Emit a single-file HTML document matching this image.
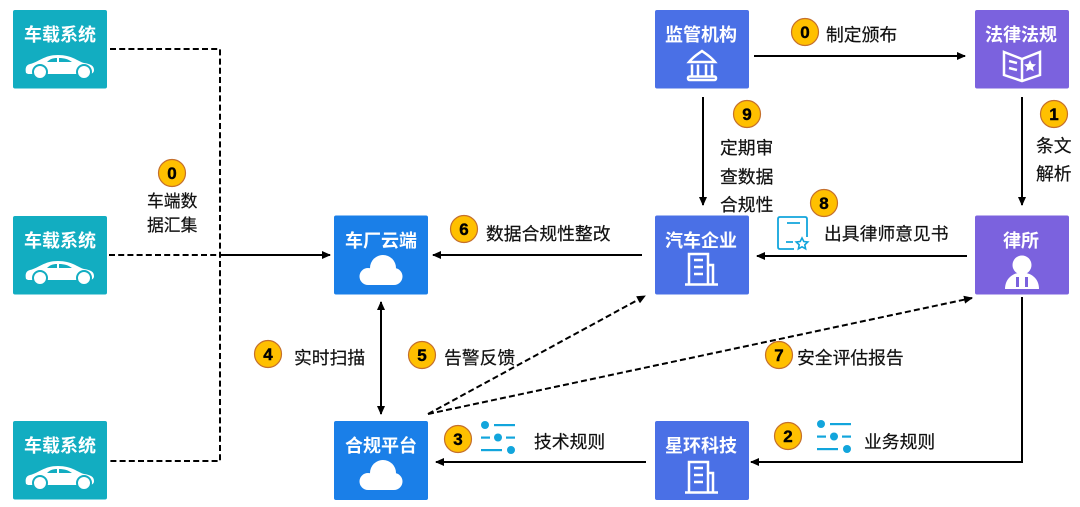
<!DOCTYPE html>
<html lang="zh"><head><meta charset="utf-8"><style>
html,body{margin:0;padding:0;background:#fff;width:1080px;height:507px;overflow:hidden}
svg{display:block}
text{font-family:"Liberation Sans","Noto Sans CJK SC",sans-serif}
.t{font-size:18px;font-weight:700;fill:#fff;text-anchor:middle}
.l{font-size:17.8px;fill:#111;stroke:#111;stroke-width:.2}
.s{font-size:16.800px}
.n{font-size:17px;font-weight:700;fill:#000;stroke:#000;stroke-width:.4;text-anchor:middle}
.c{fill:#ffc000;stroke:#c5702c;stroke-width:1.2}
.w{fill:none;stroke:#fff;stroke-width:2.500}
.li{fill:none;stroke:#000;stroke-width:2}
.d{fill:none;stroke:#000;stroke-width:2;stroke-dasharray:6 3.2}
</style></head><body>
<svg width="1080" height="507" viewBox="0 0 1080 507" xmlns="http://www.w3.org/2000/svg">
<defs>
<marker id="a" markerUnits="userSpaceOnUse" markerWidth="10" markerHeight="10" refX="8" refY="5" orient="auto-start-reverse"><path d="M0 1L9 5L0 9Z" fill="#000"/></marker>
<g id="car"><path d="M-34 13c-1-5 0-8 4-9 9-2 14-9 28-9 14 0 19 6 26 8 7 1 10 3 10 7 0 2-1 3-3 4H-32z" fill="#fff"/><path d="M-13 2c3-3 6-4 10-4v4zM-1-2c5 0 9 1 13 4H-1z" fill="#12adc1"/><circle cx="-20" cy="12" r="7" fill="#fff" stroke="#12adc1" stroke-width="2"/><circle cx="24" cy="12" r="7" fill="#fff" stroke="#12adc1" stroke-width="2"/></g>
<g id="cloud" fill="#fff"><circle cx="2" cy="-2" r="13"/><circle cx="-13" cy="6.500" r="8.500"/><circle cx="13" cy="6.500" r="8.500"/><rect x="-13" y="2" width="26" height="13"/></g>
<g id="bld"><path d="M-13 14V-16H6V14M6-5H11V14M-17 14.500H16M-8-10H1M-8-3H1M-8 4H1" class="w"/></g>
<g id="sl" fill="#12a5dc"><circle cx="4" cy="4" r="4"/><rect x="13" y="3" width="21" height="2.200"/><rect x="0" y="15.500" width="9" height="2.200"/><circle cx="17" cy="16.500" r="4"/><rect x="25" y="15.500" width="9" height="2.200"/><rect x="0" y="28" width="21" height="2.200"/><circle cx="30" cy="29" r="4"/></g>
</defs>

<!-- boxes -->
<g fill="#12adc1"><rect x="13" y="10" width="94" height="78.500" rx="2"/><rect x="13" y="216" width="94" height="78.500" rx="2"/><rect x="13" y="421" width="94" height="78.500" rx="2"/></g>
<g fill="#1a7fe8"><rect x="334" y="215.500" width="94" height="79" rx="2"/><rect x="334" y="421" width="94" height="79" rx="2"/></g>
<g fill="#4a70e6"><rect x="655" y="10" width="94" height="78.500" rx="2"/><rect x="655" y="215.500" width="94" height="79" rx="2"/><rect x="655" y="421" width="94" height="79" rx="2"/></g>
<g fill="#7b62de"><rect x="975" y="10" width="94" height="78.500" rx="2"/><rect x="975" y="215.500" width="94" height="79" rx="2"/></g>

<!-- box titles -->
<text class="t" x="60" y="41">车载系统</text>
<text class="t" x="60" y="247">车载系统</text>
<text class="t" x="60" y="452">车载系统</text>
<text class="t" x="381" y="247">车厂云端</text>
<text class="t" x="381" y="452">合规平台</text>
<text class="t" x="701" y="41">监管机构</text>
<text class="t" x="701" y="247">汽车企业</text>
<text class="t" x="701" y="452">星环科技</text>
<text class="t" x="1021" y="41">法律法规</text>
<text class="t" x="1021" y="247">律所</text>

<!-- box icons -->
<use href="#car" x="60" y="60"/><use href="#car" x="60" y="266"/><use href="#car" x="60" y="471"/>
<use href="#cloud" x="381" y="270"/><use href="#cloud" x="381" y="475"/>
<use href="#bld" x="702" y="270"/><use href="#bld" x="702" y="478"/>
<g class="w"><path d="M689 62C694 56 698 54 702 51C706 54 710 56 715 62Z"/><path d="M692 64.500V76M698 64.500V76M706 64.500V76M712 64.500V76"/><rect x="688" y="76.500" width="28" height="3.500" rx="1.500"/></g>
<g class="w"><path d="M1004 52L1022 59L1040 52V75L1022 81L1004 75Z"/><path d="M1022 59V81M1009 61L1017 63M1009 68L1017 70"/></g>
<path d="M1030 60l1.800 4 4.200.4-3.200 2.800 1 4.200-3.800-2.200-3.800 2.200 1-4.200-3.200-2.800 4.200-.4z" fill="#fff"/>
<circle cx="1022" cy="265" r="9.500" fill="#fff"/><path d="M1005 289c0-10 7-15 13-16h8c6 1 13 6 13 16z" fill="#fff"/><path d="M1016 277h3v10h-3zM1025 277h3v10h-3z" fill="#7b62de"/>

<!-- connectors -->
<path class="d" d="M110 49H220V461H110"/>
<path class="d" d="M109 255H220"/>
<path class="li" d="M220 255H330" marker-end="url(#a)"/>
<path class="li" d="M754 56H965" marker-end="url(#a)"/>
<path class="li" d="M703 97V205" marker-end="url(#a)"/>
<path class="li" d="M1022 97V205" marker-end="url(#a)"/>
<path class="li" d="M967 256H757" marker-end="url(#a)"/>
<path class="li" d="M642 255H433" marker-end="url(#a)"/>
<path class="li" d="M381 302V414" marker-start="url(#a)" marker-end="url(#a)"/>
<path class="li" d="M646 462H436" marker-end="url(#a)"/>
<path class="li" d="M1022 297V462H751" marker-end="url(#a)"/>
<path class="d" d="M428 414L645 296" marker-end="url(#a)"/>
<path class="d" d="M428 414L972 298" marker-end="url(#a)"/>

<!-- numbered badges -->
<circle class="c" cx="172" cy="173" r="13.500"/><text class="n" x="172" y="179">0</text>
<circle class="c" cx="805" cy="32" r="13.500"/><text class="n" x="805" y="38">0</text>
<circle class="c" cx="1054" cy="114" r="13.500"/><text class="n" x="1054" y="120">1</text>
<circle class="c" cx="788" cy="436" r="13.500"/><text class="n" x="788" y="442">2</text>
<circle class="c" cx="458" cy="439" r="13.500"/><text class="n" x="458" y="445">3</text>
<circle class="c" cx="268" cy="354" r="13.500"/><text class="n" x="268" y="360">4</text>
<circle class="c" cx="422" cy="355" r="13.500"/><text class="n" x="422" y="361">5</text>
<circle class="c" cx="464" cy="229" r="13.500"/><text class="n" x="464" y="235">6</text>
<circle class="c" cx="779" cy="355" r="13.500"/><text class="n" x="779" y="361">7</text>
<circle class="c" cx="824" cy="203" r="13.500"/><text class="n" x="824" y="209">8</text>
<circle class="c" cx="747" cy="114" r="13.500"/><text class="n" x="747" y="120">9</text>

<!-- labels -->
<text class="l s" x="147" y="207">车端数</text>
<text class="l s" x="147" y="231">据汇集</text>
<text class="l" x="826" y="41">制定颁布</text>
<text class="l" x="720" y="154">定期审</text>
<text class="l" x="720" y="183">查数据</text>
<text class="l" x="720" y="211">合规性</text>
<text class="l" x="1036" y="152">条文</text>
<text class="l" x="1036" y="180">解析</text>
<text class="l" x="824" y="240">出具律师意见书</text>
<text class="l" x="486" y="240">数据合规性整改</text>
<text class="l" x="294" y="364">实时扫描</text>
<text class="l" x="444" y="364">告警反馈</text>
<text class="l" x="797" y="364">安全评估报告</text>
<text class="l" x="534" y="448">技术规则</text>
<text class="l" x="864" y="448">业务规则</text>

<!-- decorative icons -->
<use href="#sl" x="481" y="421"/>
<use href="#sl" x="817" y="420"/>
<path d="M794 249H780Q778 249 778 247V219Q778 217 780 217H805Q807 217 807 219V237M787 223H800M786 242H793" fill="none" stroke="#12a5dc" stroke-width="1.800"/>
<path d="M802 238l1.800 3.500 4 .5-3 2.800.8 4-3.600-2-3.600 2 .8-4-3-2.800 4-.5z" fill="#fff" stroke="#12a5dc" stroke-width="1.600"/>
</svg>
</body></html>
